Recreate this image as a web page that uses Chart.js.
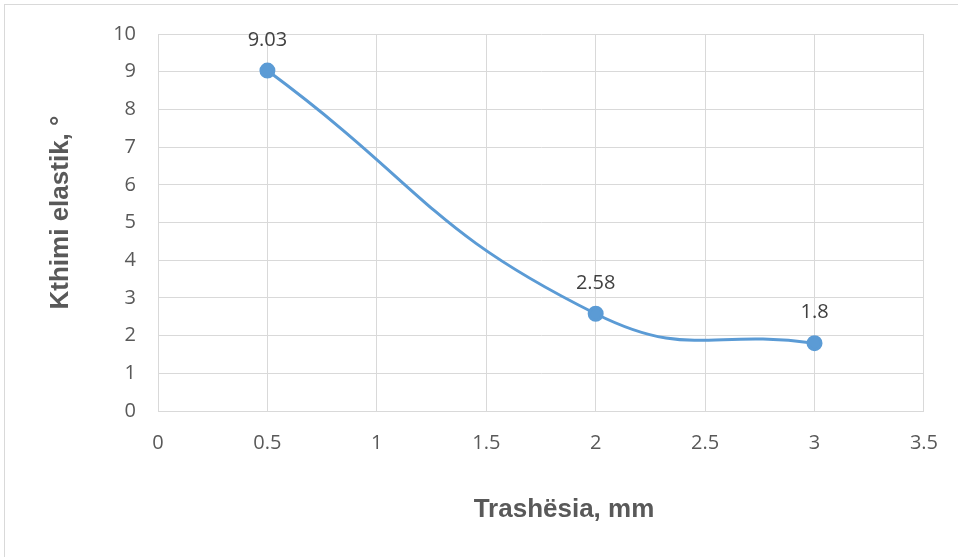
<!DOCTYPE html>
<html>
<head>
<meta charset="utf-8">
<script src="https://cdn.jsdelivr.net/npm/chart.js@4/dist/chart.umd.min.js"></script>
<style>
  html, body { margin: 0; padding: 0; background: #ffffff; }
  #wrap { position: relative; width: 958px; height: 557px; overflow: hidden; }
  #frame { position: absolute; left: 4px; top: 4px; width: 1000px; height: 600px; border: 1px solid #d9d9d9; box-sizing: border-box; }
  canvas { position: absolute; left: 0; top: 0; }
</style>
</head>
<body>
<div id="wrap">
  <div id="frame"></div>
  <canvas id="chart" width="958" height="557"></canvas>
</div>
<script>
// Thickness of the sample (mm) and the measured elastic springback angle (°)
const thickness = [0.5, 2, 3];
const springback = [9.03, 2.58, 1.8];
const xTitle = 'Trashësia, mm';
const yTitle = 'Kthimi elastik, °';

const points = thickness.map((t, i) => ({ x: t, y: springback[i] }));

const tickFont = { family: '"Open Sans", sans-serif', size: 20 };
const titleFont = '700 26px "Liberation Sans", Arial, sans-serif';

// Value labels above each point
const valueLabels = {
  id: 'valueLabels',
  afterDatasetsDraw(chart) {
    const ctx = chart.ctx;
    const meta = chart.getDatasetMeta(0);
    ctx.save();
    ctx.font = '20px "Open Sans", sans-serif';
    ctx.fillStyle = '#404040';
    ctx.textAlign = 'center';
    ctx.textBaseline = 'alphabetic';
    meta.data.forEach((el, i) => {
      ctx.fillText(String(springback[i]), el.x, el.y - 25);
    });
    ctx.restore();
  }
};

// Axis titles, placed relative to the chart area
const axisTitles = {
  id: 'axisTitles',
  afterDraw(chart) {
    const ctx = chart.ctx;
    const a = chart.chartArea;
    ctx.save();
    ctx.font = titleFont;
    ctx.fillStyle = '#595959';
    ctx.textAlign = 'center';
    ctx.textBaseline = 'alphabetic';
    ctx.fillText(xTitle, (a.left + a.right) / 2 + 23, a.bottom + 106);
    ctx.translate(a.left - 90, (a.top + a.bottom) / 2 - 10);
    ctx.rotate(-Math.PI / 2);
    ctx.fillText(yTitle, 0, 0);
    ctx.restore();
  }
};

new Chart(document.getElementById('chart'), {
  type: 'line',
  data: {
    datasets: [{
      data: points,
      borderColor: '#5b9bd5',
      backgroundColor: '#5b9bd5',
      borderWidth: 3,
      pointRadius: 6.5,
      pointHoverRadius: 6.5,
      pointBackgroundColor: '#5b9bd5',
      pointBorderColor: '#5b9bd5',
      tension: 0.48,
      fill: false
    }]
  },
  options: {
    responsive: false,
    animation: false,
    events: [],
    layout: { padding: { top: 34, right: 34, left: 0, bottom: 0 } },
    plugins: {
      legend: { display: false },
      tooltip: { enabled: false }
    },
    scales: {
      x: {
        type: 'linear',
        min: 0,
        max: 3.5,
        afterFit(scale) { scale.height = 146; },
        ticks: {
          stepSize: 0.5, padding: 20, color: '#595959', font: tickFont, maxRotation: 0,
          callback: (v) => String(v)
        },
        grid: { color: '#d9d9d9', lineWidth: 1, drawTicks: false },
        border: { color: '#d9d9d9', width: 1 }
      },
      y: {
        type: 'linear',
        min: 0,
        max: 10,
        afterFit(scale) { scale.width = 158; },
        ticks: { stepSize: 1, padding: 22, color: '#595959', font: tickFont },
        grid: { color: '#d9d9d9', lineWidth: 1, drawTicks: false },
        border: { color: '#d9d9d9', width: 1 }
      }
    }
  },
  plugins: [valueLabels, axisTitles]
});
</script>
</body>
</html>
